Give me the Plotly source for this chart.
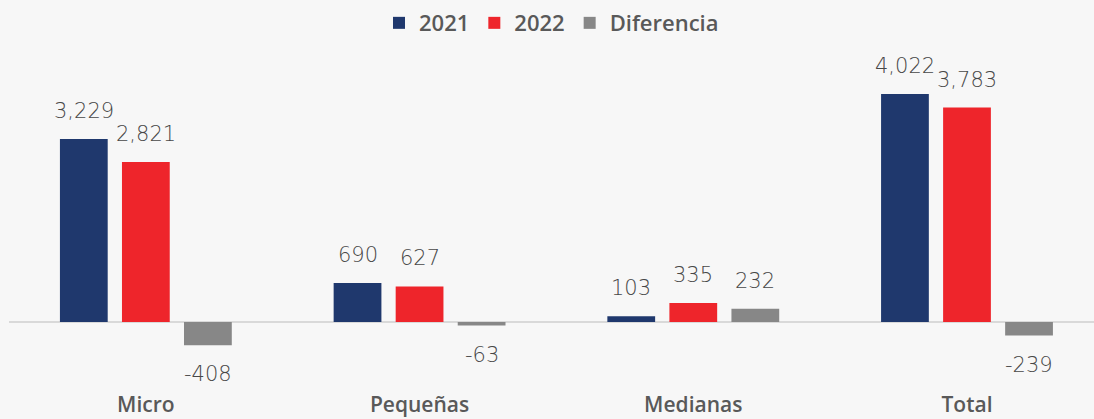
import plotly.graph_objects as go

categorias = ["Micro", "Pequeñas", "Medianas", "Total"]
v2021 = [3229, 690, 103, 4022]
v2022 = [2821, 627, 335, 3783]
diferencia = [-408, -63, 232, -239]

series = [("2021", v2021, "#1F386D"), ("2022", v2022, "#EE252B"), ("Diferencia", diferencia, "#878787")]

fig = go.Figure()
for nombre, valores, color in series:
    fig.add_trace(go.Bar(x=categorias, y=valores, name=nombre, marker_color=color,
                         marker_line_width=0, hoverinfo="skip"))

# etiquetas de datos (encima/debajo de cada barra)
desplaz = [-62, 0, 62]
for i, (nombre, valores, color) in enumerate(series):
    for cat, v in zip(categorias, valores):
        fig.add_annotation(x=cat, y=v, text="{:,}".format(v), showarrow=False,
                           xshift=desplaz[i], yshift=14 if v >= 0 else -15,
                           yanchor="bottom" if v >= 0 else "top",
                           font=dict(family="DejaVu Sans", size=21, color="#474747", weight=200))

fig.update_layout(
    width=1094, height=419,
    paper_bgcolor="#F7F7F7", plot_bgcolor="#F7F7F7",
    margin=dict(l=9, r=0, t=45, b=34, autoexpand=False),
    barmode="group", bargap=0.32, bargroupgap=0.23,
    showlegend=True,
    legend=dict(orientation="h", x=0.5, xanchor="center", yref="container", y=0.945,
                yanchor="middle",
                font=dict(family="Open Sans", size=22, color="#595959", weight=600),
                itemwidth=30, traceorder="normal"),
    font=dict(family="Open Sans", color="#595959"),
)
fig.update_xaxes(range=[-0.5, 3.464], showgrid=False, showline=False, ticks="",
                 tickfont=dict(family="Open Sans", size=21, color="#595959", weight=600),
                 ticklabelstandoff=5, fixedrange=True)
fig.update_yaxes(range=[-1111, 4886], showgrid=False, showticklabels=False,
                 zeroline=True, zerolinecolor="#D9D9D9", zerolinewidth=2, fixedrange=True)

fig.write_html("out.html", config={"displayModeBar": False},
               post_script="document.body.style.margin='0';document.body.style.overflow='hidden';")
